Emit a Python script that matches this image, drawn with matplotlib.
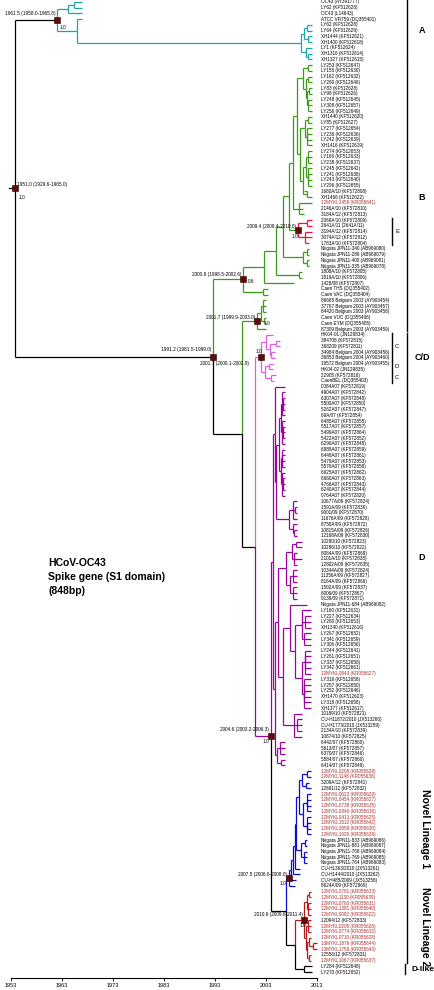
import matplotlib.pyplot as plt

plt.rcParams['font.family'] = ['Liberation Sans', 'DejaVu Sans']

# tip names, top to bottom
tip_labels = [
    "OC43 (AY391777)", "LY62 (KF512628)", "OC43 (L14643)", "ATCC VR759 (DQ355401)",
    "LY62 (KF512628)", "LY64 (KF512629)", "XH1444 (KF512621)", "XH1400 (KF512618)",
    "LY1 (KF512624)", "XH1316 (KF512614)", "XH1327 (KF512615)",
    "LY253 (KF512647)", "LY155 (KF512630)", "LY162 (KF512632)", "LY260 (KF512646)",
    "LY83 (KF512628)", "LY98 (KF512626)", "LY248 (KF512645)", "LY308 (KF512657)",
    "LY256 (KF512649)", "XH1440 (KF512620)", "LY85 (KF512627)", "LY277 (KF512654)",
    "LY236 (KF512636)", "LY242 (KF512639)", "XH1416 (KF512619)", "LY274 (KF512653)",
    "LY166 (KF512633)", "LY238 (KF512637)", "LY245 (KF512642)", "LY241 (KF512638)",
    "LY243 (KF512640)", "LY296 (KF512655)", "1660A/10 (KF572808)", "XH1466 (KF512622)",
    "12MYKL1459 (KR055641)", "2146A/10 (KF572810)", "3184A/12 (KF572813)",
    "2069A/10 (KF572809)", "2641A/11 (2641A/11)", "3194A/12 (KF572814)",
    "3074A/12 (KF572812)", "1783A/10 (KF572804)",
    "Niigata JPN11-340 (AB969080)", "Niigata JPN11-286 (AB969079)",
    "Niigata JPN11-400 (AB969081)", "Niigata JPN11-335 (AB969078)",
    "1808A/10 (KF572805)", "1819A/10 (KF572806)", "1428/08 (KF572807)",
    "Caen THS (DQ355402)", "Caen VAC (DQ355404)",
    "86665 Belgium 2003 (AY903454)", "37767 Belgium 2003 (AY903457)",
    "84420 Belgium 2003 (AY903458)", "Caen VUC (DQ355406)", "Caen EYM (DQ355405)",
    "87309 Belgium 2003 (AY903459)",
    "HK04-01 (JN129834)", "384708 (KF572815)", "368209 (KF572811)",
    "34984 Belgium 2004 (AY903456)", "36853 Belgium 2004 (AY903460)",
    "19572 Belgium 2004 (AY903455)", "HK04-02 (JN129835)", "22905 (KF572816)",
    "CaenBEL (DQ355403)",
    "0084A07 (KF572819)", "4904A07 (KF572842)", "6307A07 (KF572848)", "5500A07 (KF572850)",
    "5262A07 (KF572847)", "69A/07 (KF572854)", "6485A07 (KF572855)", "5517A07 (KF572857)",
    "5499A07 (KF572864)", "5422A07 (KF572852)", "6296A07 (KF572848)", "6888A07 (KF572859)",
    "6448A07 (KF572861)", "5479A07 (KF572853)", "5576A07 (KF572858)", "6625A07 (KF572862)",
    "6660A07 (KF572863)", "4766A07 (KF572843)", "6240A07 (KF572844)", "0764A07 (KF572820)",
    "10677A/09 (KF572824)", "1591A/09 (KF572836)", "9001/09 (KF572870)",
    "11676A/09 (KF572828)", "8758A/09 (KF572872)", "10815A/09 (KF572826)",
    "12168A/09 (KF572830)", "10280/10 (KF572823)", "10286/10 (KF572822)",
    "8084A/09 (KF572868)", "2101A/10 (KF572838)", "12802A/09 (KF572835)",
    "10344A/09 (KF572824)", "11356A/09 (KF572827)", "8164A/09 (KF572866)",
    "1592A/09 (KF572837)", "8006/09 (KF572867)", "9139/09 (KF572871)",
    "Niigata JPN11-684 (AB969082)", "LY160 (KF512631)", "LY227 (KF512634)",
    "LY280 (KF512653)", "XH1340 (KF512616)", "LY267 (KF512652)", "LY341 (KF512659)",
    "LY306 (KF512656)", "LY244 (KF512641)", "LY261 (KF512651)", "LY337 (KF512658)",
    "LY342 (KF512661)", "12MYKL0843 (KR055627)", "LY319 (KF512658)", "LY257 (KF512650)",
    "LY252 (KF512646)", "XH1470 (KF512623)", "LY318 (KF512658)", "XH1377 (KF512617)",
    "10189/10 (KF572821)", "CU-H11872/2010 (JX513260)", "CU-H1773/2010 (JX513259)",
    "2134A/10 (KF572839)", "10874/10 (KF572825)",
    "6442/07 (KF572860)", "5613/07 (KF572857)", "6370/07 (KF572846)",
    "5584/07 (KF572860)", "6414/07 (KF572849)",
    "12MYKL0208 (KR055628)", "12MYKL1148 (KR055638)", "3209A/12 (KF572841)",
    "12691/12 (KF572832)", "12MYKL0623 (KR055629)", "12MYKL0454 (KR055627)",
    "12MYKL0738 (KR055635)", "12MYKL0846 (KR055636)", "12MYKL0413 (KR055625)",
    "12MYKL1512 (KR055642)", "12MYKL0858 (KR055630)", "12MYKL1626 (KR055639)",
    "Niigata JPN11-833 (AB969086)", "Niigata JPN11-881 (AB969087)",
    "Niigata JPN11-768 (AB969084)", "Niigata JPN11-769 (AB969085)",
    "Niigata JPN11-764 (AB969083)", "CU-H1363/2010 (JX513261)",
    "CU-H1444/2010 (JX513262)", "CU-H485/2009 (JX513258)", "8624A/09 (KF572869)",
    "12MYKL0781 (KR055633)", "12MYKL1130 (KR055639)", "12MYKL0760 (KR055631)",
    "12MYKL1381 (KR055640)", "12MYKL0082 (KR055622)", "12094/12 (KF572833)",
    "12MYKL0205 (KR055626)", "12MYKL0774 (KR055632)", "12MYKL0710 (KR055628)",
    "13MYKL1876 (KR055644)", "13MYKL1759 (KR055643)", "12556/12 (KF572831)",
    "12MYKL1067 (KR055637)",
    "LY284 (KF512648)", "LY270 (KF512652)",
]

# sampling year of each tip (x end of its branch)
tip_years = [
    1967.0, 1967.0, 1967.0, 1967.0,
    2012.0, 2012.0, 2012.0, 2012.0, 2012.0, 2012.0, 2012.0,
    2012.0, 2012.0, 2012.0, 2012.0, 2012.0, 2012.0, 2012.0, 2012.0, 2012.0, 2012.0, 2012.0,
    2012.0, 2012.0, 2012.0, 2012.0, 2012.0, 2012.0, 2012.0, 2012.0, 2012.0, 2012.0, 2012.0,
    2010.5, 2012.0, 2012.0, 2010.3, 2010.5,
    2012.0, 2012.0, 2012.0, 2012.0, 2011.5,
    2011.5, 2011.5, 2011.5, 2011.5,
    2010.1, 2010.1, 2008.5, 2003.3, 2003.3,
    2003.0, 2003.0, 2003.0, 2003.0, 2003.0, 2003.0,
    2004.3, 2005.7, 2005.7, 2004.7, 2004.7, 2004.3, 2004.3, 2005.0, 2004.5,
    2006.7, 2006.7, 2006.7, 2006.7, 2006.7, 2006.7, 2006.7, 2006.7, 2006.7, 2006.7,
    2006.7, 2006.7, 2006.7, 2006.7, 2006.7, 2006.7, 2006.7, 2006.7, 2006.7, 2006.7,
    2009.1, 2009.1, 2009.1, 2009.1, 2009.1, 2009.1, 2009.1,
    2010.0, 2010.0, 2009.1, 2010.0, 2009.1, 2009.1, 2009.1, 2009.1, 2009.1, 2009.1, 2009.1,
    2011.0,
    2011.8, 2011.8, 2011.8, 2011.8, 2011.8, 2011.8, 2011.8, 2011.8, 2011.8,
    2011.8, 2011.8, 2011.8, 2011.8, 2011.8, 2011.8, 2011.8, 2011.8, 2011.8,
    2010.0, 2010.0, 2010.0, 2010.0, 2010.0,
    2006.7, 2006.7, 2006.7, 2006.7, 2006.7,
    2011.8, 2011.8, 2011.5, 2011.8, 2011.8, 2011.8, 2011.8, 2011.8, 2011.8, 2011.8,
    2011.8, 2011.8, 2011.0, 2011.0, 2011.0, 2011.0, 2011.0, 2009.7, 2009.7, 2008.8, 2008.7,
    2011.8, 2011.8, 2011.8, 2011.8, 2011.8, 2011.8, 2011.8, 2011.8, 2011.8,
    2013.0, 2013.0, 2011.8, 2011.8,
    2012.0, 2012.0,
]

# tips whose names are printed in red (1-based)
red_tips = [36, 118, 135, 136, 139, 140, 141, 142, 143, 144, 145, 146,
            156, 157, 158, 159, 160, 162, 163, 164, 165, 166, 168]

colours = {'k': 'black', 'A': '#1ca3ad', 'B': '#3d9a16', 'E': '#ee1133',
           'CD': '#e45ae4', 'D': '#99039e', 'N1': '#0a0ad0', 'N2': '#b4191c'}

# colour of the terminal branches: (first tip, last tip, colour key)
tip_colour_ranges = [(1, 11, 'A'), (12, 38, 'B'), (39, 43, 'E'), (44, 58, 'B'),
                     (59, 67, 'CD'), (68, 134, 'D'), (135, 155, 'N1'),
                     (156, 168, 'N2'), (169, 170, 'k')]

# internal nodes: (first tip, last tip, node year, colour of the stem branch)
clusters = [
    (1, 170, 1953.8, 'k'),
    (1, 11, 1962.0, 'k'), (1, 3, 1964.2, 'A'), (1, 2, 1965.4, 'A'),
    (4, 11, 1965.9, 'A'), (5, 11, 2009.8, 'A'), (5, 8, 2010.5, 'A'),
    (5, 6, 2011.0, 'A'), (7, 8, 2011.2, 'A'), (9, 11, 2010.8, 'A'), (10, 11, 2011.3, 'A'),
    (12, 170, 1992.6, 'k'),
    (12, 52, 1998.5, 'B'), (12, 50, 2002.6, 'B'), (12, 49, 2004.9, 'B'),
    (12, 47, 2006.3, 'B'), (12, 43, 2007.5, 'B'), (12, 38, 2008.3, 'B'),
    (12, 35, 2009.0, 'B'), (12, 20, 2010.3, 'B'), (12, 13, 2011.2, 'B'),
    (14, 20, 2010.8, 'B'), (14, 15, 2011.3, 'B'), (16, 20, 2011.0, 'B'),
    (16, 17, 2011.5, 'B'), (18, 20, 2011.3, 'B'),
    (21, 35, 2009.6, 'B'), (21, 26, 2010.6, 'B'), (21, 22, 2011.2, 'B'),
    (23, 26, 2011.0, 'B'), (27, 35, 2010.2, 'B'), (27, 33, 2010.8, 'B'),
    (27, 29, 2011.3, 'B'), (30, 33, 2011.2, 'B'), (34, 35, 2011.0, 'B'),
    (36, 38, 2009.5, 'B'),
    (39, 43, 2009.3, 'B'), (39, 40, 2011.0, 'E'), (41, 43, 2010.6, 'E'),
    (44, 47, 2010.2, 'B'), (44, 45, 2011.0, 'B'), (46, 47, 2011.0, 'B'),
    (48, 49, 2009.5, 'B'), (51, 52, 2002.5, 'B'),
    (53, 170, 1998.3, 'k'),
    (53, 58, 2001.3, 'B'), (53, 57, 2002.0, 'B'), (53, 55, 2002.5, 'B'), (56, 57, 2002.6, 'B'),
    (59, 170, 2000.9, 'k'),
    (59, 67, 2002.0, 'CD'), (59, 63, 2003.0, 'CD'), (60, 63, 2003.8, 'CD'),
    (60, 61, 2005.0, 'CD'), (62, 63, 2004.0, 'CD'), (64, 67, 2002.8, 'CD'),
    (64, 65, 2003.5, 'CD'), (66, 67, 2004.0, 'CD'),
    (68, 170, 2004.0, 'D'),
    (68, 134, 2004.4, 'D'), (68, 94, 2004.7, 'D'), (69, 94, 2005.0, 'D'),
    (69, 87, 2005.6, 'D'), (69, 78, 2005.9, 'D'), (69, 73, 2006.2, 'D'),
    (70, 72, 2006.4, 'D'), (74, 78, 2006.2, 'D'), (75, 77, 2006.4, 'D'),
    (79, 87, 2005.9, 'D'), (79, 82, 2006.2, 'D'), (83, 87, 2006.1, 'D'),
    (84, 86, 2006.3, 'D'), (88, 94, 2007.5, 'D'), (88, 91, 2008.3, 'D'),
    (89, 90, 2008.6, 'D'), (92, 94, 2008.2, 'D'), (93, 94, 2008.5, 'D'),
    (95, 134, 2004.8, 'D'), (95, 129, 2005.3, 'D'), (95, 105, 2007.0, 'D'),
    (95, 99, 2008.0, 'D'), (95, 96, 2008.8, 'D'), (97, 99, 2008.4, 'D'),
    (100, 105, 2007.8, 'D'), (100, 102, 2008.3, 'D'), (103, 105, 2008.2, 'D'),
    (106, 129, 2006.3, 'D'), (106, 124, 2007.8, 'D'), (107, 124, 2008.6, 'D'),
    (107, 113, 2010.0, 'D'), (108, 110, 2010.6, 'D'), (111, 113, 2010.5, 'D'),
    (114, 124, 2010.0, 'D'), (114, 118, 2010.6, 'D'), (119, 124, 2010.4, 'D'),
    (125, 129, 2008.4, 'D'), (126, 128, 2009.0, 'D'),
    (130, 134, 2005.2, 'D'), (130, 132, 2005.8, 'D'), (133, 134, 2006.0, 'D'),
    (135, 170, 2007.0, 'k'),
    (135, 155, 2007.5, 'N1'), (135, 154, 2007.9, 'N1'), (135, 153, 2008.3, 'N1'),
    (135, 152, 2008.6, 'N1'), (135, 151, 2008.9, 'N1'), (135, 146, 2009.4, 'N1'),
    (135, 138, 2010.0, 'N1'), (135, 136, 2011.0, 'N1'), (137, 138, 2010.8, 'N1'),
    (139, 146, 2010.2, 'N1'), (139, 142, 2011.0, 'N1'), (143, 146, 2011.0, 'N1'),
    (147, 151, 2009.8, 'N1'), (147, 148, 2010.6, 'N1'), (149, 151, 2010.5, 'N1'),
    (156, 170, 2008.7, 'k'),
    (156, 168, 2010.5, 'N2'), (156, 160, 2011.0, 'N2'), (156, 157, 2011.4, 'N2'),
    (158, 160, 2011.3, 'N2'), (161, 168, 2010.8, 'N2'), (161, 163, 2011.2, 'N2'),
    (164, 168, 2011.1, 'N2'), (164, 166, 2011.4, 'N2'), (165, 166, 2012.2, 'N2'),
    (167, 168, 2011.5, 'N2'),
    (169, 170, 2010.5, 'k'),
]

# dated nodes: (first tip, last tip, age with 95% HPD, posterior)
node_notes = [
    (1, 170, "1951.0 (1929.6-1965.0)", "1.0"),
    (1, 11, "1961.5 (1958.0-1965.8)", "1.0"),
    (12, 170, "1991.2 (1981.5-1999.0)", ""),
    (12, 52, "2000.8 (1998.5-2002.6)", "0.6"),
    (53, 58, "2001.7 (1999.9-2003.0)", "1.0"),
    (39, 43, "2009.4 (2008.4-2010.0)", "1.0"),
    (59, 67, "2001.7 (2000.1-2002.9)", "1.0"),
    (68, 170, "2004.6 (2003.2-2006.3)", "1.0"),
    (135, 155, "2007.5 (2006.6-2008.0)", "1.0"),
    (156, 168, "2010.6 (2009.6-2011.4)", "1.0"),
]
# label placement in pixels: (dx, dy, ha) for the date, (dx, dy) for the posterior
note_offsets = [
    (2, -4, 'left', 3, 9), (-1, -7, 'right', 3, 7), (-2, -7, 'right', 0, 0),
    (-2, -5, 'right', 5, 2), (-2, -4, 'right', 6, 2), (-2, -4, 'right', -7, 6),
    (-12, 6, 'right', -5, -6), (-2, -7, 'right', -9, 5), (-2, -4, 'right', -9, 5),
    (-1, -5, 'right', -5, 6),
]

# clade bars: (first tip, last tip, name, level)
clade_bars = [(1, 11, "A", 0), (12, 58, "B", 0), (59, 67, "C/D", 0), (68, 134, "D", 0),
              (135, 155, "Novel Lineage 1", 0), (156, 168, "Novel Lineage 2", 0),
              (169, 170, "D-like", 0),
              (39, 43, "E", 1), (59, 63, "C", 1), (64, 65, "D", 1), (66, 67, "C", 1)]

years = [1953, 1963, 1973, 1983, 1993, 2003, 2013]

# ---------------------------------------------------------------
PX_YEAR = 5.1
X0 = 11.0
ROW = 5.74


def px_x(px):
    return 1953 + (px - X0) / PX_YEAR


def px_y(py):
    return 1 + (py - 2) / ROW


def tip_colour(i):
    for a, b, key in tip_colour_ranges:
        if a <= i <= b:
            return colours[key]
    return 'black'


def kids_of(c):
    inner = [d for d in clusters if d is not c and c[0] <= d[0] and d[1] <= c[1]]
    top = [d for d in inner
           if not any(e is not d and e[0] <= d[0] and d[1] <= e[1] for e in inner)]
    out = []
    i = c[0]
    while i <= c[1]:
        m = [d for d in top if d[0] == i]
        if m:
            out.append(m[0])
            i = m[0][1] + 1
        else:
            out.append(i)
            i += 1
    return out


fig = plt.figure(figsize=(4.35, 9.9), dpi=100)
ax = fig.add_axes([0, 0, 1, 1])
ax.set_xlim(px_x(0), px_x(435))
ax.set_ylim(px_y(990), px_y(0))

node_pos = {}
LW = 0.9


def draw(c):
    if isinstance(c, int):
        return tip_years[c - 1], float(c)
    ys = []
    for k in kids_of(c):
        kx, ky = draw(k)
        col = tip_colour(k) if isinstance(k, int) else colours[k[3]]
        ys.append((kx, ky, col))
    y = (ys[0][1] + ys[-1][1]) / 2
    for kx, ky, col in ys:
        ax.plot([c[2], c[2]], [y, ky], color=col, lw=LW, solid_capstyle='butt')
        ax.plot([c[2], kx], [ky, ky], color=col, lw=LW, solid_capstyle='butt')
    node_pos[(c[0], c[1])] = (c[2], y)
    return c[2], y


root = clusters[0]
rx, ry = draw(root)
ax.plot([rx - 1.2, rx], [ry, ry], color='black', lw=LW)

# tip labels
for i, name in enumerate(tip_labels, start=1):
    ax.text(px_x(321), i, name, fontsize=3.3, va='center', ha='left',
            color='#b02a2a' if i in red_tips else 'black')

# node boxes and dates
for (a, b, txt, post), (dx, dy, ha, sx, sy) in zip(node_notes, note_offsets):
    nx, ny = node_pos[(a, b)]
    ax.plot(nx, ny, marker='s', ms=3.8, mfc='#5e0b0b', mec='#2b0000', mew=0.4, zorder=5)
    ax.annotate(txt, (nx, ny), xytext=(dx * 0.72, -dy * 0.72), textcoords='offset points',
                fontsize=3.4, ha=ha, va='center')
    if post:
        ax.annotate(post, (nx, ny), xytext=(sx * 0.72, -sy * 0.72), textcoords='offset points',
                    fontsize=3.4, ha='left', va='center')

# clade bars
for a, b, name, level in clade_bars:
    bx = px_x(407 if level == 0 else 392)
    if name == "D-like":
        bx = px_x(405)
    ax.plot([bx, bx], [a - 0.4, b + 0.4], color='black', lw=1.0)
    ym = (a + b) / 2
    if level == 1:
        ax.text(px_x(397), ym, name, fontsize=4.2, ha='center', va='center')
    elif name.startswith("Novel"):
        ax.text(px_x(425), ym, name, fontsize=7.5, fontweight='bold',
                rotation=-90, ha='center', va='center')
    elif name == "D-like":
        ax.text(px_x(412), ym, name, fontsize=6, fontweight='bold',
                ha='left', va='center')
    elif name == "D":
        ax.text(px_x(422), px_y(558), name, fontsize=6.5, fontweight='bold',
                ha='center', va='center')
    else:
        ax.text(px_x(422), ym, name, fontsize=6.5, fontweight='bold',
                ha='center', va='center')

# title block
for k, line in enumerate(["HCoV-OC43", "Spike gene (S1 domain)", "(848bp)"]):
    ax.text(px_x(48), px_y(563 + 14 * k), line,
            fontsize=7.5, fontweight='bold', ha='left', va='center')

# time axis
for s in ['top', 'left', 'right']:
    ax.spines[s].set_visible(False)
ax.spines['bottom'].set_position(('data', px_y(978)))
ax.spines['bottom'].set_bounds(years[0], years[-1])
ax.spines['bottom'].set_linewidth(0.8)
ax.set_xticks(years)
ax.set_xticklabels([str(y) for y in years])
ax.tick_params(axis='x', length=2, width=0.6, labelsize=4, pad=1.5)
ax.set_yticks([])
ax.patch.set_visible(False)

fig.savefig('out.png', dpi=100)
